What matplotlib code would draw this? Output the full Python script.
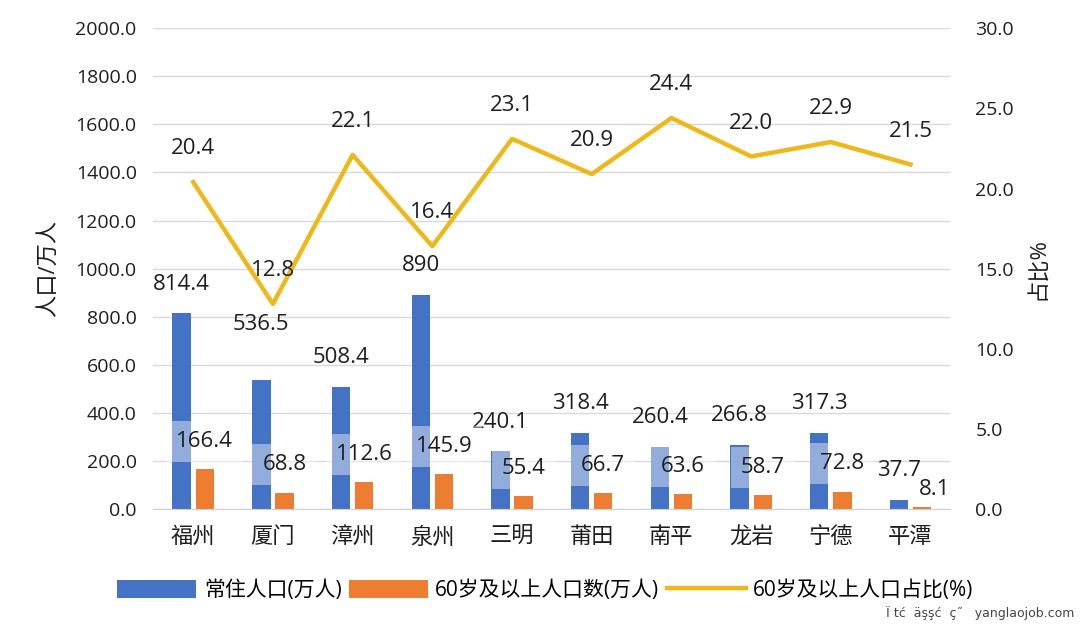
import numpy as np
import matplotlib
matplotlib.use("Agg")
import matplotlib.pyplot as plt
from matplotlib.patches import Patch
from matplotlib.lines import Line2D

plt.rcParams["font.family"] = ["Open Sans", "Noto Sans CJK SC", "DejaVu Sans"]

# Data
cities = ["福州", "厦门", "漳州", "泉州", "三明", "莆田", "南平", "龙岩", "宁德", "平潭"]
resident = [814.4, 536.5, 508.4, 890, 240.1, 318.4, 260.4, 266.8, 317.3, 37.7]
resident_labels = ["814.4", "536.5", "508.4", "890", "240.1", "318.4", "260.4", "266.8", "317.3", "37.7"]
elderly = [166.4, 68.8, 112.6, 145.9, 55.4, 66.7, 63.6, 58.7, 72.8, 8.1]
ratio = [20.4, 12.8, 22.1, 16.4, 23.1, 20.9, 24.4, 22.0, 22.9, 21.5]

BLUE = "#4472C4"
ORANGE = "#ED7D31"
GOLD = "#EDB81A"
TXT = "#1E1E1E"

fig = plt.figure(figsize=(10.8, 6.27), dpi=100)
ax = fig.add_axes([0.142, 0.188, 0.738, 0.767])
ax2 = ax.twinx()

x = np.arange(len(cities))
w = 0.23
off = 0.145

ax.bar(x - off, resident, w, color=BLUE, zorder=2)
ax.bar(x + off, elderly, w, color=ORANGE, zorder=2)

ax.set_ylim(0, 2000)
ax.set_xlim(-0.5, len(cities) - 0.5)
ax.set_yticks(np.arange(0, 2001, 200))
ax.set_yticklabels([f"{v:.1f}" for v in np.arange(0, 2001, 200)], fontsize=14, color=TXT)
ax.set_xticks(x)
ax.set_xticklabels(cities, fontsize=16, color=TXT)
ax.tick_params(axis="both", length=0)
ax.tick_params(axis="x", pad=13)
ax.tick_params(axis="y", pad=12)
ax.grid(axis="y", color="#D9D9D9", linewidth=1, zorder=0)
ax.set_axisbelow(True)
for s in ["top", "right", "left"]:
    ax.spines[s].set_visible(False)
ax.spines["bottom"].set_color("#D0D0D0")
ax.set_ylabel("人口/万人", fontsize=16, color=TXT, labelpad=12)

# bar labels
LBL = 16
for i, (v, lab) in enumerate(zip(resident, resident_labels)):
    dy = 40 if i == 1 else 21
    ax.annotate(lab, (x[i] - off, v), xytext=(0, dy), textcoords="offset points",
                ha="center", va="center", fontsize=LBL, color=TXT, zorder=5)
for i, v in enumerate(elderly):
    if i == len(elderly) - 1:
        ax.annotate(f"{v:.1f}", (x[i] + off, v), xytext=(9, 13), textcoords="offset points",
                    ha="center", va="center", fontsize=LBL, color=TXT, zorder=5)
        continue
    ax.annotate(f"{v:.1f}", (x[i] + off, v), xytext=(0, 20), textcoords="offset points",
                ha="center", va="center", fontsize=LBL, color=TXT, zorder=5,
                bbox=dict(boxstyle="square,pad=0.45", facecolor="white", alpha=0.42,
                          edgecolor="none"))

# secondary axis line
ax2.plot(x, ratio, color=GOLD, linewidth=3.2, zorder=4)
ax2.set_ylim(0, 30)
ax2.set_yticks(np.arange(0, 31, 5))
ax2.set_yticklabels([f"{v:.1f}" for v in np.arange(0, 31, 5)], fontsize=14, color=TXT)
ax2.tick_params(axis="y", length=0, pad=18)
for s in ["top", "right", "left", "bottom"]:
    ax2.spines[s].set_visible(False)
ax2.set_ylabel("占比%", fontsize=16, color=TXT, rotation=90, labelpad=10)
for i, v in enumerate(ratio):
    ax2.annotate(f"{v:.1f}", (x[i], v), xytext=(0, 24), textcoords="offset points",
                 ha="center", va="center", fontsize=LBL, color=TXT, zorder=6)

handles = [
    Patch(facecolor=BLUE, edgecolor="none", label="常住人口(万人)"),
    Patch(facecolor=ORANGE, edgecolor="none", label="60岁及以上人口数(万人)"),
    Line2D([0], [0], color=GOLD, linewidth=3.2, label="60岁及以上人口占比(%)"),
]
fig.legend(handles=handles, loc="center", bbox_to_anchor=(0.505, 0.058), ncol=3,
           frameon=False, fontsize=15, handlelength=3.8, handleheight=0.95,
           columnspacing=0.35, handletextpad=0.35)

fig.text(0.995, 0.022, "Ï tć  äşşć  ç˝   yanglaojob.com", ha="right", va="center",
         fontsize=9, color="#444444", family=["DejaVu Sans"])

fig.savefig("out.png", dpi=100)
